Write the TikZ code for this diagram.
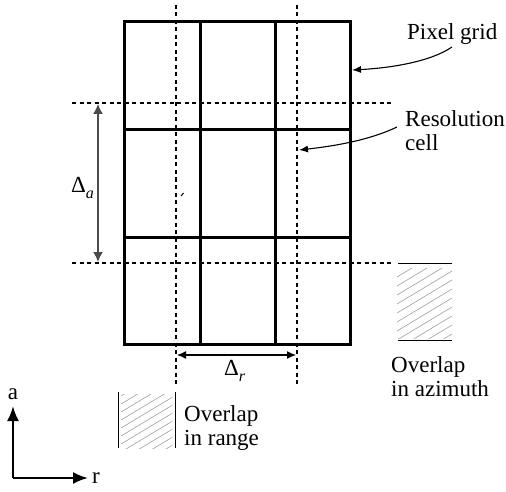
\documentclass[tikz,border=0pt]{standalone}
\usepackage{fontspec}
\setmainfont{Liberation Serif}
\usetikzlibrary{arrows.meta}
\tikzset{
  gridline/.style={line width=3pt},
  dotline/.style={line width=2pt,dash pattern=on 4pt off 3.5pt},
  lbl/.style={font=\fontsize{23}{24}\selectfont,align=left,inner sep=0pt},
  hatch/.style={gray!75,line width=0.6pt},
  pointer/.style={line width=1.1pt,-{Latex[length=9pt,width=7pt]}},
  axis/.style={line width=2.3pt,-{Latex[length=15pt,width=12pt]}},
}
\newcommand{\subit}[1]{\raisebox{-6pt}{\fontsize{16}{16}\selectfont\itshape #1}}
\begin{document}
\begin{tikzpicture}[x=1pt,y=-1pt]
\useasboundingbox (0,0) rectangle (506,492);
% pixel grid
\draw[gridline] (124,22) rectangle (350,344);
\foreach \x in {200,275} \draw[gridline] (\x,22)--(\x,344);
\foreach \y in {130,237} \draw[gridline] (124,\y)--(350,\y);
% resolution cell borders
\foreach \x in {176,297} \draw[dotline] (\x,5)--(\x,385);
\draw[dotline] (72,103)--(392,103);
\draw[dotline] (72,263)--(394,263);
\draw[line width=1pt] (181,196)--(183.5,193);
% spacing in azimuth
\coordinate (aTop) at (98,104);
\coordinate (aBot) at (98,262);
\draw[gray!60!black,line width=1.5pt,{Latex[length=10pt,width=10pt]}-{Latex[length=10pt,width=10pt]}] (aTop)--(aBot);
\node[lbl,anchor=base west] (da) at (71,192) {Δ\subit{a}};
% spacing in range
\coordinate (rLeft) at (177,355);
\coordinate (rRight) at (296,355);
\draw[line width=1.2pt,{Latex[length=9pt,width=8pt]}-{Latex[length=9pt,width=8pt]}] (rLeft)--(rRight);
\node[lbl,anchor=base west] (dr) at (224,375) {Δ\subit{r}};
% labels with pointers
\node[lbl,anchor=base west] (pixel) at (407,40) {Pixel grid};
\coordinate (pxEnd) at (352,70);
\draw[pointer] (452,47) .. controls (430,62) and (390,68) .. (pxEnd);
\node[lbl,anchor=north west] (res) at (405,110) {Resolution\\cell};
\coordinate (resEnd) at (299,150);
\draw[pointer] (397,127) .. controls (370,140) and (335,146) .. (resEnd);
% overlap in azimuth
\draw[line width=1pt] (398,263)--(452,263);
\draw[line width=1pt] (398,340)--(452,340);
\begin{scope}
\clip (397,268) rectangle (452,338);
\foreach \k in {0,...,12} \draw[hatch] (397,{268+9*\k})--++(60,-36);
\end{scope}
\node[lbl,anchor=west] (ovAz) at (391,377) {Overlap\\in azimuth};
% overlap in range
\draw[line width=1pt] (118,392)--(118,448);
\draw[line width=1pt] (175,392)--(175,448);
\begin{scope}
\clip (121,394) rectangle (172,448);
\foreach \k in {0,...,12} \draw[hatch] (121,{396+8*\k})--++(55,-33);
\end{scope}
\node[lbl,anchor=west] (ovRg) at (184,428) {Overlap\\in range};
% axes
\coordinate (o) at (13,478);
\node[lbl,anchor=base] (aLbl) at (13,399) {a};
\node[lbl,anchor=base west] (rLbl) at (92,483) {r};
\draw[axis] (o)--(13,406);
\draw[axis] (o)--(88,478);
\end{tikzpicture}
\end{document}
